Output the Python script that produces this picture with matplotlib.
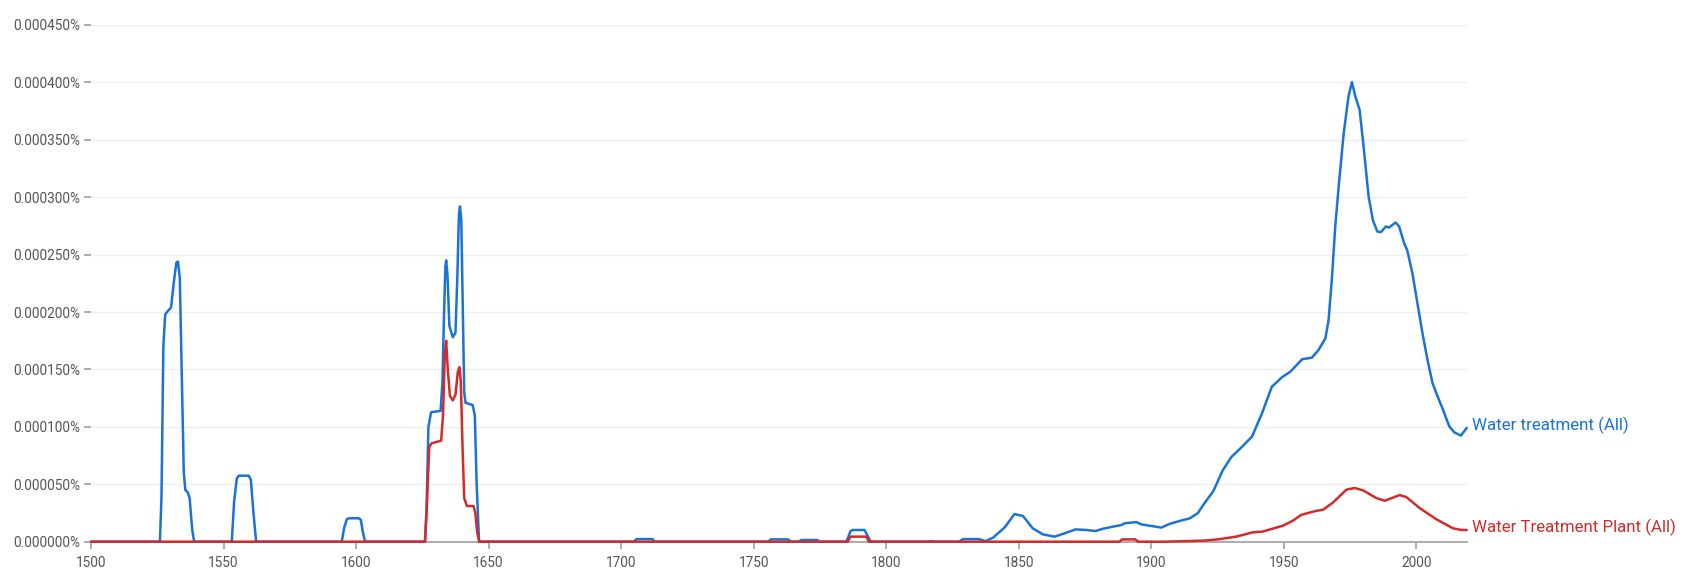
import matplotlib
matplotlib.use("Agg")
import matplotlib.pyplot as plt
from matplotlib.ticker import FuncFormatter, MultipleLocator

plt.rcParams['font.family'] = ['Roboto', 'DejaVu Sans']

# values are in units of 0.000001 %
blue_years = [1500, 1526.0, 1526.6, 1527.3, 1528.0, 1529.0, 1530.2, 1531.2, 1532.2, 1532.8,
              1533.5, 1534.2, 1535.0, 1535.6, 1536.5, 1537.2, 1538.2, 1538.9,
              1553.1, 1554.0, 1555.0, 1555.7, 1559.5, 1560.3, 1561.3, 1562.3,
              1594.6, 1595.5, 1596.5, 1597.3, 1601.0, 1601.8, 1602.6, 1603.4,
              1626.0, 1626.6, 1627.3, 1628.3, 1631.9, 1632.6, 1633.2, 1633.7, 1634.0, 1634.5,
              1635.2, 1636.5, 1637.5, 1638.2, 1638.8, 1639.2, 1639.7, 1640.3, 1640.8, 1641.3,
              1644.0, 1644.8, 1645.5, 1646.4,
              1704.8, 1705.8, 1711.8, 1712.6,
              1755.5, 1756.5, 1763.0, 1764.0, 1767.0, 1768.0, 1774.0, 1775.0,
              1785.0, 1786.5, 1787.2, 1791.8, 1793.0, 1794.2,
              1815.5, 1817.0, 1818.0, 1827.5, 1829.0, 1835.0, 1837.5,
              1840.3, 1844.7, 1848.4, 1851.6, 1855.3, 1859.1, 1863.5, 1867.3, 1871.4,
              1875.5, 1879.0, 1881.8, 1885.5, 1888.7, 1889.9, 1894.3, 1896.2, 1899.4,
              1903.8, 1906.9, 1912.0, 1914.5, 1917.6, 1920.1, 1923.4, 1927.0, 1930.2,
              1933.5, 1938.0, 1941.8, 1945.5, 1949.3, 1952.5, 1956.9, 1960.6, 1963.1,
              1965.7, 1966.9, 1968.2, 1969.4, 1970.7, 1972.6, 1974.4, 1975.7, 1977.0,
              1978.6, 1980.1, 1982.0, 1983.6, 1985.3, 1986.6, 1988.5, 1989.7, 1992.2,
              1993.5, 1995.4, 1996.6, 1998.5, 2000.4, 2002.3, 2004.2, 2006.1, 2008.0,
              2009.8, 2012.4, 2014.3, 2016.8, 2019.0]
blue_vals = [0, 0, 40, 170, 198, 201, 204, 225, 243, 244,
             230, 150, 60, 45, 43, 38, 10, 0,
             0, 35, 55, 57.5, 57.5, 54, 25, 0,
             0, 12, 19.5, 20.4, 20.4, 19, 8, 0,
             0, 30, 100, 112.7, 114, 140, 200, 240, 245, 232,
             188, 178, 182, 230, 285, 292, 280, 200, 130, 121,
             119, 110, 50, 0,
             0, 2.3, 2.3, 0,
             0, 2, 2, 0, 0, 1.5, 1.5, 0,
             0, 9, 10.2, 10.2, 5, 0,
             0, 0.5, 0, 0, 2.3, 2.3, 0.5,
             3.5, 12.5, 24.1, 22.4, 11.6, 6.4, 4.4, 7.3, 10.7,
             10.2, 9.3, 11.3, 13.1, 14.5, 16.0, 17.1, 15.1, 13.9,
             12.3, 15.5, 18.9, 20.3, 25.0, 33.6, 44.0, 62.3, 73.7,
             81.0, 91.5, 112.0, 135.0, 143.2, 148.1, 158.9, 160.3, 167.0,
             177.2, 193.1, 230.9, 274.4, 309.3, 355.8, 387.7, 400.2, 387.7,
             376.1, 344.1, 300.5, 280.0, 270.1, 269.6, 274.5, 273.6, 278.0,
             274.5, 260.0, 253.6, 233.9, 207.8, 181.7, 158.5, 138.2, 126.6,
             116.5, 100.5, 95.3, 92.4, 99.1]

red_years = [1500, 1626.0, 1626.6, 1627.6, 1628.5, 1632.1, 1632.8, 1633.5, 1634.0, 1634.6,
             1635.4, 1636.5, 1637.5, 1638.4, 1639.0, 1639.5, 1640.2, 1640.8, 1641.8,
             1644.3, 1645.0, 1645.7, 1646.5,
             1785.5, 1786.5, 1792.5, 1793.5,
             1888.0, 1889.0, 1894.0, 1895.0,
             1905.0, 1919.5, 1925.0, 1932.0, 1938.4, 1942.0, 1949.7, 1953.5, 1956.6,
             1962.3, 1964.8, 1968.6, 1973.6, 1976.7, 1979.9, 1984.9, 1988.1, 1993.7,
             1996.2, 2001.3, 2007.5, 2013.8, 2017.0, 2019.0]
red_vals = [0, 0, 25, 82.7, 85.7, 88, 110, 165, 175, 150,
            127, 123, 128, 148, 152, 140, 80, 38, 31.1,
            31, 25, 8, 0,
            0, 4.4, 4.4, 0,
            0, 2, 2, 0,
            0, 0.9, 2.0, 4.4, 8.2, 8.8, 14.0, 18.4, 23.4,
            26.9, 27.8, 34.2, 45.3, 46.8, 44.7, 38.0, 35.7, 40.6,
            38.9, 29.2, 19.6, 11.7, 10.2, 10.2]

series_labels = ["Water treatment (All)", "Water Treatment Plant (All)"]
series_colors = ["#1a73d6", "#d42a2a"]

W, H = 1697, 578
fig = plt.figure(figsize=(W / 100, H / 100), dpi=100)
ax = fig.add_axes([91 / W, 1 - 541.7 / H, (1466.7 - 91) / W, (541.7 - 25) / H])

scale = 1e-6
for yrs, vals, lab, col, z in [(blue_years, blue_vals, series_labels[0], series_colors[0], 3),
                               (red_years, red_vals, series_labels[1], series_colors[1], 4)]:
    ys = [v * scale for v in vals]
    ax.plot(yrs, ys, color=col, lw=1.8, zorder=z, clip_on=False,
            solid_joinstyle='round', solid_capstyle='round')
    ax.annotate(lab, xy=(yrs[-1], ys[-1]), xytext=(5, 3), textcoords='offset pixels',
                color=col, fontsize=12.2, va='center', ha='left', annotation_clip=False)

ax.set_xlim(1500, 2019)
ax.set_ylim(0, 0.00045)
ax.xaxis.set_major_locator(MultipleLocator(50))
ax.yaxis.set_major_locator(MultipleLocator(0.00005))
ax.yaxis.set_major_formatter(FuncFormatter(lambda v, p: f"{v:.6f}%"))

ax.grid(axis='y', color='#efefef', lw=1)
ax.set_axisbelow(True)
for s in ['top', 'right', 'left']:
    ax.spines[s].set_visible(False)
ax.spines['bottom'].set_color('#9e9e9e')
ax.spines['bottom'].set_linewidth(1.2)
ax.spines['bottom'].set_zorder(2)

ax.tick_params(axis='y', length=5, width=1.2, color='#9e9e9e', pad=3, labelsize=9.8, labelcolor='#555555')
ax.tick_params(axis='x', length=5, width=1.2, color='#9e9e9e', pad=5, labelsize=9.8, labelcolor='#555555')

fig.savefig("out.png", dpi=100)
